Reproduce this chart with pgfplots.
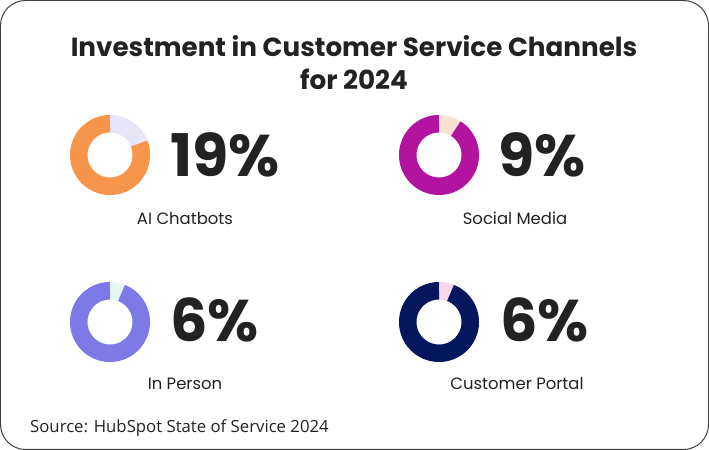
\documentclass[border=0pt]{standalone}
\usepackage{pgfplots}
\pgfplotsset{compat=1.18}
\usepgfplotslibrary{polar}
\usepackage{fontspec}
\setmainfont{Poppins}
\newfontfamily\srcfont{Open Sans}
\definecolor{txt}{HTML}{222222}
\definecolor{cA}{HTML}{F7964A}\definecolor{lA}{HTML}{E6E6F8}
\definecolor{cB}{HTML}{B3149F}\definecolor{lB}{HTML}{FCE3CF}
\definecolor{cC}{HTML}{7D79E6}\definecolor{lC}{HTML}{E4F7F3}
\definecolor{cD}{HTML}{05175C}\definecolor{lD}{HTML}{F9D7EC}
\pgfplotsset{donut/.style={scale only axis, width=62.5bp, height=62.5bp, hide axis,
  ymin=0, ymax=1, xmin=0, xmax=360, anchor=center, clip=false},
  ring/.style={no markers, line width=17.5bp, line cap=butt}}
% share values (percent): AI Chatbots 19, Social Media 9, In Person 6, Customer Portal 6
\begin{document}
\begin{tikzpicture}[x=1bp,y=1bp]
\draw[rounded corners=25bp, color=black!75, line width=1bp] (0.5,0.5) rectangle (708.5,449.5);
\coordinate (pA) at (110,295);
\coordinate (pB) at (439,295);
\coordinate (pC) at (110,128);
\coordinate (pD) at (439,128);
\node[anchor=base, font=\fontsize{26.3}{32}\selectfont\bfseries, text=txt] at (354,393) {Investment in Customer Service Channels};
\node[anchor=base, font=\fontsize{26.3}{32}\selectfont\bfseries, text=txt] at (354,360) {for 2024};

\begin{polaraxis}[donut, at={(pA)}]
\addplot[ring, color=lA, domain={90-19*3.6}:90, samples=40] {1};
\addplot[ring, color=cA, domain=-270:{90-19*3.6}, samples=150] {1};
\end{polaraxis}
\begin{polaraxis}[donut, at={(pB)}]
\addplot[ring, color=lB, domain={90-9*3.6}:90, samples=30] {1};
\addplot[ring, color=cB, domain=-270:{90-9*3.6}, samples=150] {1};
\end{polaraxis}
\begin{polaraxis}[donut, at={(pC)}]
\addplot[ring, color=lC, domain={90-6*3.6}:90, samples=20] {1};
\addplot[ring, color=cC, domain=-270:{90-6*3.6}, samples=150] {1};
\end{polaraxis}
\begin{polaraxis}[donut, at={(pD)}]
\addplot[ring, color=lD, domain={90-6*3.6}:90, samples=20] {1};
\addplot[ring, color=cD, domain=-270:{90-6*3.6}, samples=150] {1};
\end{polaraxis}

\tikzset{pct/.style={anchor=base west, inner sep=0pt, font=\fontsize{59}{64}\selectfont\bfseries, text=txt},
  lab/.style={anchor=base, inner sep=0pt, font=\fontsize{16.5}{20}\selectfont, text=txt}}
\node[pct] at (170,273) {19\%};
\node[pct] at (498,273) {9\%};
\node[pct] at (170,108) {6\%};
\node[pct] at (500,108) {6\%};
\node[lab] at (185,225) {AI Chatbots};
\node[lab] at (515,225) {Social Media};
\node[lab] at (185,60) {In Person};
\node[lab] at (517,60) {Customer Portal};
\node[anchor=base west, inner sep=0pt, font=\srcfont\fontsize{16.8}{20}\selectfont, text=txt] at (30,17) {Source: HubSpot State of Service 2024};
\end{tikzpicture}
\end{document}
